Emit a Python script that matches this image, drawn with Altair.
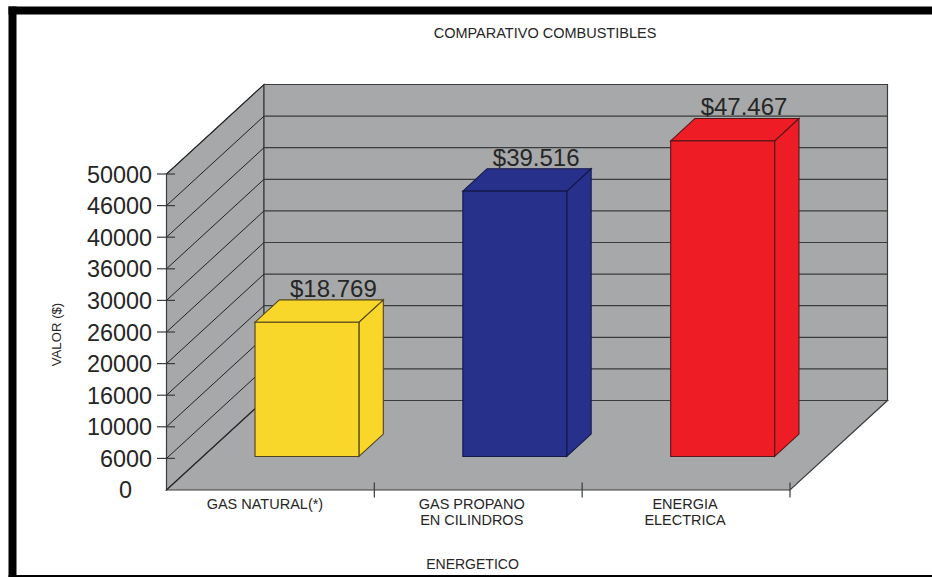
import altair as alt
import pandas as pd

# Chart content
chart_title = "COMPARATIVO COMBUSTIBLES"
categories = ["GAS NATURAL(*)", "GAS PROPANO\nEN CILINDROS", "ENERGIA\nELECTRICA"]
bar_values = [18769, 39516, 47467]
bar_labels = ["$18.769", "$39.516", "$47.467"]
bar_fills = ["#F9D62A", "#27308A", "#EE1C25"]
bar_edges = ["#4F4320", "#14184A", "#5A1518"]
axis_levels = [0, 5000, 10000, 15000, 20000, 25000, 30000, 35000, 40000, 45000, 50000]
axis_labels = ["0", "6000", "10000", "16000", "20000", "26000", "30000", "36000", "40000", "46000", "50000"]

# Layout of the box in page pixels
LEFT, TOP, PLOT_W, PLOT_H = 166.5, 85, 720.5, 405
BAND_PX = 207.83
PX_PER_UNIT = 316 / 50000
DEPTH_X = 97.5 / BAND_PX        # box depth along the x scale
DEPTH_Y = 89.5 / PX_PER_UNIT    # box depth along the y scale
BAR_NEAR, BAR_FAR = 0.375, 0.625  # fraction of the depth occupied by a bar
BAR_WIDTH = 0.5
BAR_LIFT = 2470                 # bars rise slightly above the value grid
LABEL_NUDGE = [-5.5, -6.5, -1]
VALUE_NUDGE = [2, -3, -3]
GREY, LINE, TEXT = "#A6A8A9", "#3A3C3D", "#262626"
FONT = "Liberation Sans"
TICK_FONT = 23.4

xs = alt.Scale(domain=[0, PLOT_W / BAND_PX], nice=False, zero=False)
ys = alt.Scale(domain=[0, PLOT_H / PX_PER_UNIT], nice=False, zero=False)

# The zero label sits apart from the others, so it is drawn as its own text below
y_axis = alt.Axis(
    values=axis_levels[1:],
    labelExpr="[" + ",".join("'" + s + "'" for s in axis_labels) + "][round(datum.value/5000)]",
    ticks=False, domain=False, grid=False,
    labelFont=FONT, labelFontSize=TICK_FONT, labelColor=TEXT, labelPadding=15, labelOffset=1,
    labelOverlap=False, labelFlush=False,
    title="VALOR ($)", titleFont=FONT, titleFontSize=13.2, titleFontWeight="normal",
    titleColor=TEXT, titleX=-110, titleY=249, titleAngle=-90,
    titleBaseline="middle", titleAlign="center",
)
x_axis = alt.Axis(
    values=[0], ticks=False, labels=False, domain=False, grid=False,
    title="ENERGETICO", titleFont=FONT, titleFontSize=14, titleFontWeight="normal",
    titleColor=TEXT, titleX=305.5, titleY=74, titleBaseline="middle", titleAlign="center",
)


# Every layer carries the same axis definitions so that they merge into one
def X():
    return alt.X("x:Q", scale=xs, axis=x_axis)


def Y():
    return alt.Y("y:Q", scale=ys, axis=y_axis)


X2, Y2 = alt.X2("x2:Q"), alt.Y2("y2:Q")

# Walls and floor of the box
left_wall = pd.DataFrame({
    "x": [0, DEPTH_X],
    "y": [50000, 50000 + DEPTH_Y],
    "y2": [0, DEPTH_Y],
})
back_wall = pd.DataFrame({"x": [DEPTH_X], "x2": [3 + DEPTH_X], "y": [DEPTH_Y], "y2": [50000 + DEPTH_Y]})
floor = pd.DataFrame({"y": [0, DEPTH_Y], "x": [0, DEPTH_X], "x2": [3, 3 + DEPTH_X]})

wall_style = dict(fill=GREY, stroke=LINE, strokeWidth=1.2)
layers = [
    alt.Chart(left_wall).mark_area(**wall_style).encode(X(), Y(), Y2),
    alt.Chart(back_wall).mark_rect(**wall_style).encode(X(), X2, Y(), Y2),
    alt.Chart(floor).mark_area(orient="horizontal", **wall_style).encode(X(), X2, Y()),
]

# Grid lines running along the left wall and across the back wall
side_grid = pd.DataFrame({
    "x": 0.0, "x2": DEPTH_X,
    "y": axis_levels, "y2": [v + DEPTH_Y for v in axis_levels],
})
back_grid = pd.DataFrame({
    "x": DEPTH_X, "x2": 3 + DEPTH_X,
    "y": [v + DEPTH_Y for v in axis_levels],
})
level_ticks = pd.DataFrame({
    "x": -9.5 / BAND_PX, "x2": 8.5 / BAND_PX,
    "y": axis_levels[1:],
})
band_ticks = pd.DataFrame({
    "x": [1, 2, 3], "y": -7.5 / PX_PER_UNIT, "y2": 7.5 / PX_PER_UNIT,
})
rule_style = dict(color=LINE, strokeWidth=1.2)
layers += [
    alt.Chart(side_grid).mark_rule(color="#222222", strokeWidth=1).encode(X(), X2, Y(), Y2),
    alt.Chart(back_grid).mark_rule(**rule_style).encode(X(), X2, Y()),
    alt.Chart(level_ticks).mark_rule(**rule_style).encode(X(), X2, Y()),
    alt.Chart(band_ticks).mark_rule(**rule_style).encode(X(), Y(), Y2),
]

# Three faces of every bar, built from its value and the depth projection
fronts, sides, tops, labels = [], [], [], []
for i, value in enumerate(bar_values):
    left = i + 0.5 - BAR_WIDTH / 2
    right = left + BAR_WIDTH
    near_x, far_x = BAR_NEAR * DEPTH_X, BAR_FAR * DEPTH_X
    near_y, far_y = BAR_NEAR * DEPTH_Y, BAR_FAR * DEPTH_Y
    top = value + BAR_LIFT
    name = categories[i]
    fronts.append({"name": name, "x": left + near_x, "x2": right + near_x,
                   "y": near_y, "y2": near_y + top})
    sides += [
        {"name": name, "x": right + near_x, "y": near_y, "y2": near_y + top},
        {"name": name, "x": right + far_x, "y": far_y, "y2": far_y + top},
    ]
    tops += [
        {"name": name, "y": near_y + top, "x": left + near_x, "x2": right + near_x},
        {"name": name, "y": far_y + top, "x": left + far_x, "x2": right + far_x},
    ]
    labels.append({"name": bar_labels[i], "x": i + 0.5 + far_x + VALUE_NUDGE[i] / BAND_PX, "y": far_y + top})

fill = alt.Fill("name:N", scale=alt.Scale(domain=categories, range=bar_fills), legend=None)
stroke = alt.Stroke("name:N", scale=alt.Scale(domain=categories, range=bar_edges), legend=None)
edge = dict(strokeWidth=1.1, opacity=1)
layers += [
    alt.Chart(pd.DataFrame(sides)).mark_area(**edge).encode(X(), Y(), Y2, fill=fill, stroke=stroke),
    alt.Chart(pd.DataFrame(tops)).mark_area(orient="horizontal", **edge).encode(X(), X2, Y(), fill=fill, stroke=stroke),
    alt.Chart(pd.DataFrame(fronts)).mark_rect(**edge).encode(X(), X2, Y(), Y2, fill=fill, stroke=stroke),
    alt.Chart(pd.DataFrame(labels)).mark_text(
        font=FONT, fontSize=24, color=TEXT, baseline="alphabetic", dy=-3
    ).encode(X(), Y(), text="name:N"),
]

# Zero label of the value axis
layers.append(
    alt.Chart(pd.DataFrame({"y": [axis_levels[0]], "t": [axis_labels[0]]})).mark_text(
        font=FONT, fontSize=TICK_FONT, color=TEXT, align="right", baseline="middle", dy=1
    ).encode(x=alt.value(-34.5), y=Y(), text="t:N")
)

# Category names below the floor
cat_rows = pd.DataFrame({
    "x": [i + 0.5 + LABEL_NUDGE[i] / BAND_PX for i in range(3)],
    "name": categories,
})
layers.append(
    alt.Chart(cat_rows).mark_text(
        font=FONT, fontSize=14.5, color=TEXT, lineBreak="\n", lineHeight=16, baseline="top", align="center"
    ).encode(X(), y=alt.value(413), text="name:N")
)

# Chart heading above the box
layers.append(
    alt.Chart(pd.DataFrame({"t": [chart_title]})).mark_text(
        font=FONT, fontSize=14.5, color=TEXT, align="center", baseline="middle"
    ).encode(x=alt.value(378.5), y=alt.value(-51.5), text="t:N")
)

# Heavy black frame on the top, left and bottom of the page
frame_rows = [
    dict(x=alt.value(-LEFT + 8.5), x2=alt.value(932 - LEFT), y=alt.value(-TOP + 6.5), y2=alt.value(-TOP + 14.5)),
    dict(x=alt.value(-LEFT + 8.5), x2=alt.value(-LEFT + 16.5), y=alt.value(-TOP + 6.5), y2=alt.value(577 - TOP)),
    dict(x=alt.value(-LEFT + 8.5), x2=alt.value(932 - LEFT), y=alt.value(575 - TOP), y2=alt.value(577 - TOP)),
]
frame_data = pd.DataFrame({"k": [0]})
for enc in frame_rows:
    layers.append(alt.Chart(frame_data).mark_rect(color="#000000").encode(**enc))

chart = (
    alt.layer(*layers)
    .resolve_scale(fill="independent", stroke="independent")
    .properties(
        width=PLOT_W,
        height=PLOT_H,
        background="#FFFFFF",
        padding={"left": LEFT, "top": TOP, "right": 932 - LEFT - PLOT_W, "bottom": 577 - TOP - PLOT_H},
        autosize=alt.AutoSizeParams(type="none"),
    )
    .configure_view(stroke=None)
)

chart.save("out.html", embed_options={"renderer": "svg", "actions": False})
